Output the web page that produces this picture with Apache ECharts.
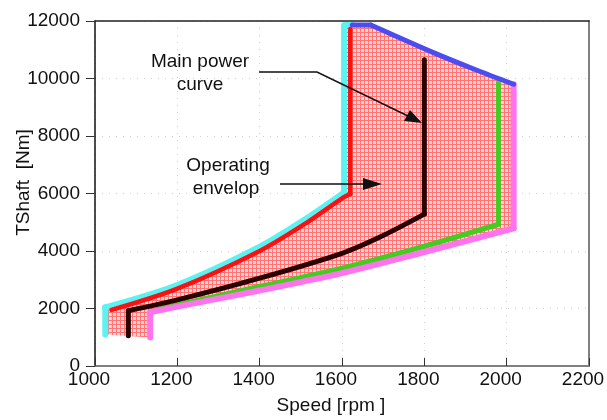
<!DOCTYPE html>
<html>
<head>
<meta charset="utf-8">
<script src="https://cdn.jsdelivr.net/npm/echarts@6/dist/echarts.min.js"></script>
<style>
  html, body { margin: 0; padding: 0; background: #fff; }
  #main { width: 607px; height: 420px; }
</style>
</head>
<body>
<div id="main"></div>
<script>
// speed [rpm], torque [Nm]
const xTicks = [1000, 2200, 200];
const yTicks = [0, 12000, 2000];

// outer left / top edge of the envelope
const cyanEdge = [[1025, 1100], [1025, 2040], [1200, 2820], [1400, 4150], [1515, 5150], [1605, 6040], [1605, 11860], [1625, 11860]];
// top edge (max speed limited)
const blueEdge = [[1625, 11860], [1670, 11860], [1822, 10900], [1920, 10330], [2017, 9800]];
// right / bottom edge
const magentaEdge = [[2017, 9800], [2017, 4790], [1800, 3965], [1600, 3230], [1400, 2624], [1200, 2064], [1134, 1866], [1134, 990]];
// inner curves
const redCurve = [[1040, 1950], [1200, 2690], [1400, 4000], [1515, 4990], [1600, 5830], [1620, 5980], [1620, 11720]];
const greenCurve = [[1150, 1950], [1200, 2120], [1400, 2765], [1600, 3400], [1800, 4165], [1980, 4930], [1980, 9830]];
const mainPower = [[1081, 1050], [1081, 1924], [1200, 2300], [1400, 3055], [1600, 3920], [1700, 4540], [1800, 5283], [1800, 10650]];

const font = 'Liberation Sans, Arial, sans-serif';

// hatched fill pattern
const pat = document.createElement('canvas');
pat.width = 4; pat.height = 4;
const pc = pat.getContext('2d');
pc.fillStyle = '#ffd2d2';
pc.fillRect(0, 0, 4, 4);
pc.fillStyle = '#ff7474';
pc.fillRect(0, 0, 4, 1);
pc.fillRect(0, 0, 1, 4);

const envelope = cyanEdge.concat(blueEdge, magentaEdge);

// split a trace into straight runs (vertical/horizontal) and smooth curved runs
function curve(name, data, color, width, z) {
  const out = [];
  let run = [data[0]];
  let kind = null;
  for (let i = 1; i < data.length; i++) {
    const a = data[i - 1], b = data[i];
    const k = (a[0] === b[0] || a[1] === b[1]) ? 'straight' : 'curve';
    if (kind !== null && k !== kind) {
      out.push({ kind, pts: run });
      run = [a];
    }
    kind = k;
    run.push(b);
  }
  out.push({ kind, pts: run });
  return out.map(r => ({
    name, type: 'line', data: r.pts, z,
    showSymbol: false, symbol: 'none', silent: true,
    smooth: r.kind === 'curve' ? 0.3 : false,
    lineStyle: { color, width, cap: 'round', join: 'round' }
  }));
}

const chart = echarts.init(document.getElementById('main'));
const option = {
  animation: false,
  backgroundColor: '#fff',
  grid: { left: 95, right: 18, top: 21, bottom: 54, outerBoundsMode: 'none' },
  xAxis: [{
    type: 'value', min: xTicks[0], max: xTicks[1], interval: xTicks[2],
    name: 'Speed [rpm ]', nameLocation: 'middle', nameGap: 30, nameMoveOverlap: false,
    nameTextStyle: { fontFamily: font, fontSize: 19, color: '#111', padding: [0, 22, 0, 0] },
    axisLine: { onZero: false, lineStyle: { color: '#808080', width: 2 } },
    axisTick: { inside: true, length: 8, lineStyle: { color: '#333' } },
    axisLabel: { margin: 4, fontFamily: font, fontSize: 19, color: '#111', padding: [0, 12, 0, 0], formatter: v => String(v) },
    splitLine: { show: true, lineStyle: { color: '#d0d0d0', type: [1, 6] } }
  }, {
    type: 'value', position: 'top', min: xTicks[0], max: xTicks[1], interval: xTicks[2],
    axisLine: { show: true, onZero: false, lineStyle: { color: '#222', width: 1.5 } },
    axisTick: { show: false }, axisLabel: { show: false }, splitLine: { show: false }
  }],
  yAxis: [{
    type: 'value', min: yTicks[0], max: yTicks[1], interval: yTicks[2],
    name: 'TShaft  [Nm]', nameLocation: 'middle', nameGap: 62, nameMoveOverlap: false,
    nameTextStyle: { fontFamily: font, fontSize: 19, color: '#111', padding: [0, 0, 0, 22] },
    axisLine: { show: true, onZero: false, lineStyle: { color: '#111', width: 1.5 } },
    axisTick: { show: true, inside: false, length: 9, lineStyle: { color: '#333' } },
    axisLabel: { margin: 15, fontFamily: font, fontSize: 19, color: '#111', formatter: v => String(v) },
    splitLine: { show: true, lineStyle: { color: '#d0d0d0', type: [1, 6] } }
  }, {
    type: 'value', position: 'right', min: yTicks[0], max: yTicks[1], interval: yTicks[2],
    axisLine: { show: true, onZero: false, lineStyle: { color: '#808080', width: 2 } },
    axisTick: { show: false }, axisLabel: { show: false }, splitLine: { show: false }
  }],
  series: [
    {
      name: 'Operating envelop', type: 'custom', z: 1, silent: true,
      data: [0],
      renderItem: function (params, api) {
        const pts = envelope.map(p => api.coord(p));
        return {
          type: 'polygon',
          shape: { points: pts },
          style: { fill: { image: pat, repeat: 'repeat' }, stroke: null }
        };
      }
    }
  ].concat(
    curve('cyan', cyanEdge, '#5cf2f2', 6, 2),
    curve('green', greenCurve, '#44cc22', 5, 3),
    curve('magenta', magentaEdge, '#ff74ee', 6, 4),
    curve('blue', blueEdge, '#4c4cf0', 5, 5),
    curve('red', redCurve, '#ff1010', 4.5, 6),
    curve('Main power curve', mainPower, '#2a0000', 5, 7)
  ),
  graphic: [
    { type: 'text', x: 200, y: 62, style: { text: 'Main power', font: '19px ' + font, fill: '#111', align: 'center', verticalAlign: 'middle' } },
    { type: 'text', x: 200, y: 85, style: { text: 'curve', font: '19px ' + font, fill: '#111', align: 'center', verticalAlign: 'middle' } },
    { type: 'text', x: 228, y: 166, style: { text: 'Operating', font: '19px ' + font, fill: '#111', align: 'center', verticalAlign: 'middle' } },
    { type: 'text', x: 226, y: 189, style: { text: 'envelop', font: '19px ' + font, fill: '#111', align: 'center', verticalAlign: 'middle' } },
    { type: 'polyline', shape: { points: [[259, 72], [317, 72], [408, 116]] }, style: { stroke: '#111', lineWidth: 1.5, fill: null }, z: 10 },
    { type: 'polygon', shape: { points: [[422, 123], [404, 121], [410, 110]] }, style: { fill: '#111' }, z: 10 },
    { type: 'line', shape: { x1: 280, y1: 184, x2: 366, y2: 184 }, style: { stroke: '#111', lineWidth: 1.5 }, z: 10 },
    { type: 'polygon', shape: { points: [[382, 184], [363, 178], [363, 190]] }, style: { fill: '#111' }, z: 10 }
  ]
};
chart.setOption(option);
</script>
</body>
</html>
